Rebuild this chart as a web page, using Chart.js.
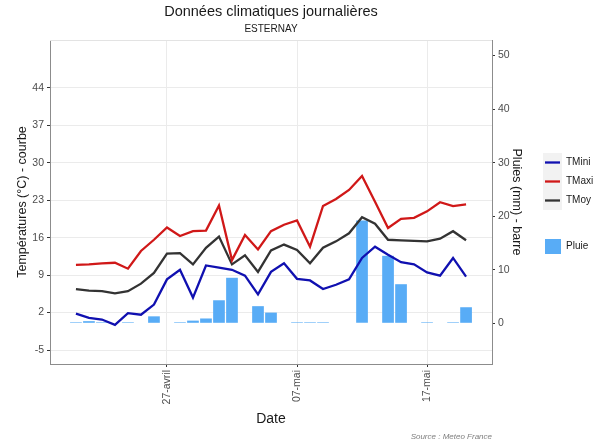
<!DOCTYPE html>
<html lang="fr">
<head>
<meta charset="UTF-8">
<title>Données climatiques journalières</title>
<script src="https://cdn.jsdelivr.net/npm/chart.js"></script>
<style>
  html, body { margin: 0; padding: 0; background: #fff; }
  #wrap { width: 602px; height: 445px; }
</style>
</head>
<body>
<div id="wrap"><canvas id="meteo" width="602" height="445"></canvas></div>
<script>
// 20 avril -> 20 mai
const jours = [
  '20-avril', '21-avril', '22-avril', '23-avril', '24-avril', '25-avril', '26-avril',
  '27-avril', '28-avril', '29-avril', '30-avril', '01-mai', '02-mai', '03-mai',
  '04-mai', '05-mai', '06-mai', '07-mai', '08-mai', '09-mai', '10-mai', '11-mai',
  '12-mai', '13-mai', '14-mai', '15-mai', '16-mai', '17-mai', '18-mai', '19-mai', '20-mai'
];
const tmini = [1.8, 1.0, 0.7, -0.3, 1.9, 1.6, 3.5, 8.2, 10.0, 4.8, 10.8, 10.4, 10.0, 8.9, 5.4, 9.6,
  11.2, 8.3, 8.0, 6.4, 7.2, 8.2, 12.2, 14.3, 12.8, 11.4, 11.0, 9.5, 8.9, 12.2, 8.7];
const tmaxi = [10.9, 11.0, 11.2, 11.3, 10.2, 13.5, 15.6, 17.9, 16.3, 17.2, 17.3, 22.0, 11.8, 16.5, 13.8, 17.2,
  18.4, 19.2, 14.3, 21.9, 23.2, 24.9, 27.5, 22.7, 17.8, 19.5, 19.7, 20.9, 22.6, 21.9, 22.2];
const tmoy = [6.4, 6.1, 6.0, 5.6, 6.0, 7.4, 9.4, 13.0, 13.1, 11.0, 14.1, 16.2, 11.0, 12.7, 9.6, 13.6,
  14.7, 13.7, 11.2, 14.1, 15.3, 16.8, 19.8, 18.6, 15.6, 15.5, 15.4, 15.3, 15.8, 17.2, 15.5];
const pluie = [0.2, 0.4, 0.2, null, 0.2, null, 1.3, null, 0.2, 0.5, 0.9, 4.3, 8.5, null, 3.2, 2.0,
  null, 0.2, 0.2, 0.2, null, null, 19.2, null, 12.6, 7.3, null, 0.2, null, 0.2, 3.0];

const datesAffichees = ['27-avril', '07-mai', '17-mai'];
const ticksTemp = [-5, 2, 9, 16, 23, 30, 37, 44];
const ticksPluie = [0, 10, 20, 30, 40, 50];

const couleurs = { TMini: '#1010b0', TMaxi: '#d01818', TMoy: '#333333', Pluie: '#58acf6' };
const police = "'Liberation Sans', Arial, Helvetica, sans-serif";
Chart.defaults.font.family = police;

const points = (serie) => serie.map((v, i) => ({ x: i, y: v }));

// titre, sous-titre, bord haut du panneau, légende et source
const habillage = {
  id: 'habillage',
  afterDraw(chart) {
    const { ctx, chartArea: a } = chart;
    const cx = (a.left + a.right) / 2;
    ctx.save();
    ctx.strokeStyle = '#e3e3e3';
    ctx.lineWidth = 1;
    ctx.beginPath();
    ctx.moveTo(a.left, a.top + 0.5);
    ctx.lineTo(a.right, a.top + 0.5);
    ctx.stroke();

    ctx.fillStyle = '#1a1a1a';
    ctx.textAlign = 'center';
    ctx.textBaseline = 'middle';
    ctx.font = '14.5px ' + police;
    ctx.fillText('Données climatiques journalières', cx, 12);
    ctx.font = '10px ' + police;
    ctx.fillText('ESTERNAY', cx, 29);

    // légende
    const lx = a.right + 51;
    ctx.fillStyle = '#f2f2f2';
    ctx.fillRect(lx, 153, 19, 57);
    ctx.textAlign = 'left';
    ctx.font = '10px ' + police;
    chart.data.datasets.forEach((ds, k) => {
      if (ds.type !== 'line') return;
      const y = 162.5 + 19 * k;
      ctx.strokeStyle = ds.borderColor;
      ctx.lineWidth = 2.3;
      ctx.beginPath();
      ctx.moveTo(lx + 2, y);
      ctx.lineTo(lx + 17, y);
      ctx.stroke();
      ctx.fillStyle = '#1a1a1a';
      ctx.fillText(ds.label, lx + 23, y);
    });
    ctx.fillStyle = couleurs.Pluie;
    ctx.fillRect(lx + 2, 239, 16, 15);
    ctx.fillStyle = '#1a1a1a';
    ctx.fillText('Pluie', lx + 23, 246.5);

    ctx.font = 'italic 8px ' + police;
    ctx.fillStyle = '#7f7f7f';
    ctx.textAlign = 'right';
    ctx.fillText('Source : Meteo France', a.right, 437);
    ctx.restore();
  }
};

const texteTicks = { size: 10.5 };
const titreAxe = { size: 12.5 };

new Chart(document.getElementById('meteo'), {
  type: 'bar',
  data: {
    datasets: [
      { type: 'line', label: 'TMini', data: points(tmini), yAxisID: 'y',
        borderColor: couleurs.TMini, borderWidth: 2.3, pointRadius: 0, tension: 0 },
      { type: 'line', label: 'TMaxi', data: points(tmaxi), yAxisID: 'y',
        borderColor: couleurs.TMaxi, borderWidth: 2.3, pointRadius: 0, tension: 0 },
      { type: 'line', label: 'TMoy', data: points(tmoy), yAxisID: 'y',
        borderColor: couleurs.TMoy, borderWidth: 2.3, pointRadius: 0, tension: 0 },
      { type: 'bar', label: 'Pluie', data: points(pluie), yAxisID: 'y1',
        backgroundColor: couleurs.Pluie, borderWidth: 0,
        categoryPercentage: 0.9, barPercentage: 1 }
    ]
  },
  options: {
    responsive: false,
    animation: false,
    layout: { padding: { left: 0, right: 75, top: 40, bottom: 0 } },
    plugins: { legend: { display: false }, tooltip: { enabled: false } },
    scales: {
      x: {
        type: 'linear',
        min: -1.995,
        max: 31.995,
        offset: false,
        afterBuildTicks: (s) => { s.ticks = datesAffichees.map(d => ({ value: jours.indexOf(d) })); },
        afterFit: (s) => { s.height = 81; },
        ticks: {
          autoSkip: false, minRotation: 90, maxRotation: 90, padding: 3,
          color: '#4d4d4d', font: texteTicks,
          callback: (v) => jours[v]
        },
        grid: { offset: false, color: '#ebebeb', tickColor: '#333333', tickLength: 3 },
        border: { color: '#8c8c8c' },
        title: { display: true, text: 'Date', color: '#1a1a1a', font: { size: 14 }, padding: { top: 0, bottom: 17 } }
      },
      y: {
        position: 'left',
        min: -7.6,
        max: 52.9,
        afterBuildTicks: (s) => { s.ticks = ticksTemp.map(v => ({ value: v })); },
        afterFit: (s) => { s.width = 50; },
        ticks: { padding: 3, color: '#4d4d4d', font: texteTicks },
        grid: { color: '#ebebeb', tickColor: '#333333', tickLength: 3 },
        border: { color: '#8c8c8c' },
        title: { display: true, text: 'Températures (°C) - courbe', color: '#1a1a1a', font: titreAxe, padding: { top: 15, bottom: 0 } }
      },
      y1: {
        position: 'right',
        min: -7.6,
        max: 52.9,
        afterBuildTicks: (s) => { s.ticks = ticksPluie.map(v => ({ value: v })); },
        afterFit: (s) => { s.width = 35; },
        ticks: { padding: 3, color: '#4d4d4d', font: texteTicks },
        grid: { drawOnChartArea: false, tickColor: '#333333', tickLength: 3 },
        border: { color: '#8c8c8c' },
        title: { display: true, text: 'Pluies (mm) - barre', color: '#1a1a1a', font: titreAxe, padding: { top: 3, bottom: 0 } }
      }
    }
  },
  plugins: [habillage]
});
</script>
</body>
</html>
